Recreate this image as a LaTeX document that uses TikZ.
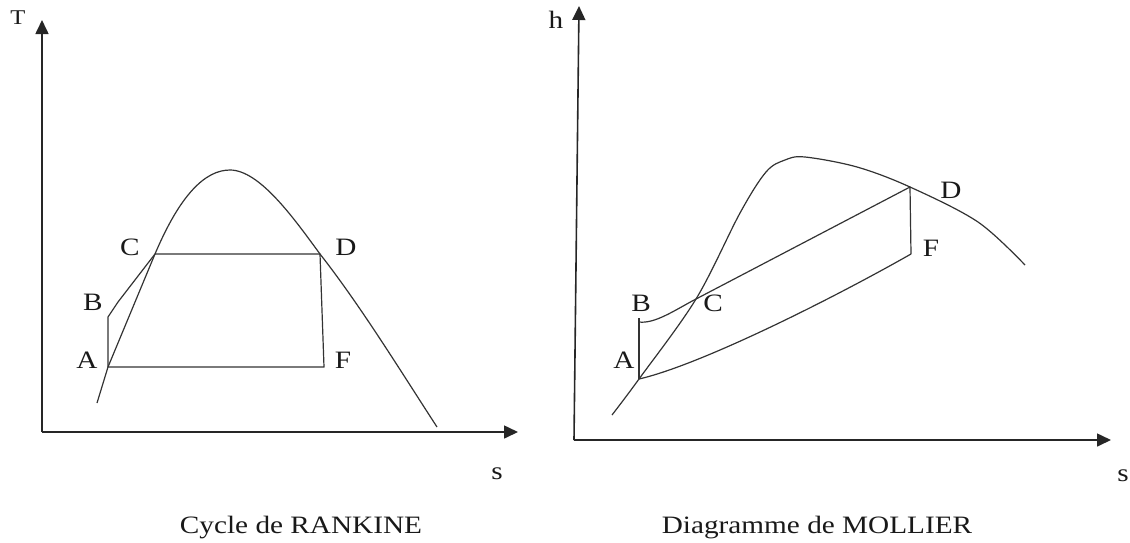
\documentclass[tikz,border=0pt]{standalone}
\usepackage{fontspec}
\setmainfont{Liberation Serif}[FakeStretch=1.17]
\usetikzlibrary{arrows.meta}
\begin{document}
\begin{tikzpicture}[x=1pt,y=-1pt,
  axis/.style={line width=1.6pt, draw=black!85, -{Triangle[length=14pt,width=13pt]}},
  curve/.style={line width=1.2pt, draw=black!80, line join=round},
  lbl/.style={font=\fontsize{25}{30}\selectfont, inner sep=0pt, text=black!90},
  smalllbl/.style={font=\fontsize{21}{25}\selectfont, inner sep=0pt, text=black!90},
  captxt/.style={font=\fontsize{25}{30}\selectfont, inner sep=0pt, text=black!90}]
\useasboundingbox (0,0) rectangle (1130,542);
% ---------- Left: Rankine ----------
\coordinate (O1) at (42,432);
\coordinate (T1) at (42,20);
\coordinate (S1) at (518,432);
\draw[axis] (O1) -- (T1);
\draw[axis] (O1) -- (S1);
\coordinate (A1) at (108,367);
\coordinate (B1) at (108,317);
\coordinate (Bk1) at (118,302);
\coordinate (C1) at (155,254);
\coordinate (D1) at (320,254);
\coordinate (F1) at (324,367);
\coordinate (Top1) at (230,170);
\coordinate (L1) at (97,403);
\coordinate (R1) at (437,427);
\draw[curve] (L1) -- (A1) -- (C1)
  .. controls (180,195) and (205,170) .. (Top1)
  .. controls (260,170) and (295,220) .. (D1)
  .. controls (360,305) and (400,370) .. (R1);
\draw[curve] (A1) -- (B1) -- (Bk1) -- (C1) -- (D1) -- (F1) -- cycle;
\node[smalllbl] (lT) at (18,18) {T};
\node[lbl] (ls1) at (497,474) {s};
\node[lbl] (lC1) at (130,247) {C};
\node[lbl] (lD1) at (346,247) {D};
\node[lbl] (lB1) at (93,302) {B};
\node[lbl] (lA1) at (87,360) {A};
\node[lbl] (lF1) at (343,360) {F};
\node[captxt] (cap1) at (301,528) {Cycle de RANKINE};
% ---------- Right: Mollier ----------
\coordinate (O2) at (574,440);
\coordinate (H2) at (579,6);
\coordinate (S2) at (1111,440);
\draw[axis] (O2) -- (H2);
\draw[axis] (O2) -- (S2);
\coordinate (A2) at (639,379);
\coordinate (B2) at (639,318);
\coordinate (C2) at (696,299);
\coordinate (D2) at (910,187);
\coordinate (F2) at (911,254);
\draw[curve] plot[smooth,tension=0.55] coordinates {(612,415) (639,379) (696,299) (740,213) (766,172) (785,160) (805,157) (857,167) (910,187) (978,222) (1025,265)};
\draw[curve] (A2) -- (B2);
\draw[curve] (639,322) .. controls (655,324) and (675,310) .. (C2) -- (D2) -- (F2);
\draw[curve] (A2) .. controls (700,365) and (830,300) .. (F2);
\node[lbl] (lh) at (556,20) {h};
\node[lbl] (ls2) at (1123,476) {s};
\node[lbl] (lB2) at (641,303) {B};
\node[lbl] (lC2) at (713,303) {C};
\node[lbl] (lA2) at (624,360) {A};
\node[lbl] (lF2) at (931,248) {F};
\node[lbl] (lD2) at (951,190) {D};
\node[captxt] (cap2) at (817,528) {Diagramme de MOLLIER};
\end{tikzpicture}
\end{document}
